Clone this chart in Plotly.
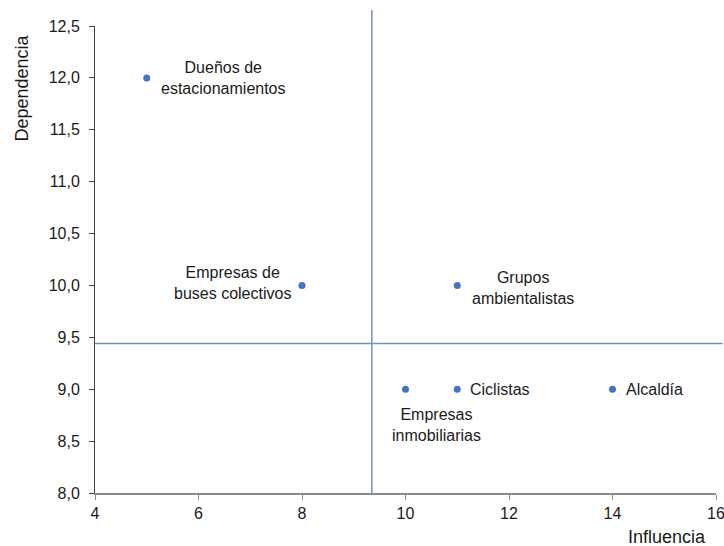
import plotly.graph_objects as go

# ---- data ----
actors = ["Dueños de<br>estacionamientos", "Empresas de<br>buses colectivos",
          "Grupos<br>ambientalistas", "Empresas<br>inmobiliarias",
          "Ciclistas", "Alcaldía"]
influencia = [5, 8, 11, 10, 11, 14]
dependencia = [12.0, 10.0, 10.0, 9.0, 9.0, 9.0]
influence_cut = 9.35
dependence_cut = 9.44
x_ticks = [4, 6, 8, 10, 12, 14, 16]
y_ticks = [8.0, 8.5, 9.0, 9.5, 10.0, 10.5, 11.0, 11.5, 12.0, 12.5]

# ---- label placement (style) ----
label_style = {
    "Dueños de<br>estacionamientos": dict(xanchor="left", xshift=12, yshift=0),
    "Empresas de<br>buses colectivos": dict(xanchor="right", xshift=-9, yshift=2),
    "Grupos<br>ambientalistas": dict(xanchor="left", xshift=13, yshift=-3),
    "Empresas<br>inmobiliarias": dict(xanchor="center", xshift=31, yshift=-36),
    "Ciclistas": dict(xanchor="left", xshift=11, yshift=0),
    "Alcaldía": dict(xanchor="left", xshift=11, yshift=0),
}

FONT = "Liberation Sans, Arial, sans-serif"
TXT = "#1a1a1a"

fig = go.Figure()
fig.add_trace(go.Scatter(
    x=influencia, y=dependencia, mode="markers",
    marker=dict(color="#4472C4", size=7),
    hoverinfo="text", text=actors, showlegend=False,
))

annotations = []
for name, xv, yv in zip(actors, influencia, dependencia):
    s = label_style[name]
    annotations.append(dict(
        x=xv, y=yv, xref="x", yref="y", text=name, showarrow=False,
        xanchor=s["xanchor"], yanchor="middle", align="center",
        xshift=s["xshift"], yshift=s["yshift"],
        font=dict(family=FONT, size=16, color=TXT),
    ))

annotations.append(dict(
    text="Dependencia", xref="paper", yref="paper", x=0, y=1,
    xanchor="center", yanchor="top", xshift=-74, yshift=-7, textangle=-90,
    showarrow=False, font=dict(family=FONT, size=18, color=TXT),
))
annotations.append(dict(
    text="Influencia", xref="paper", yref="paper", x=1, y=0,
    xanchor="right", yanchor="middle", xshift=-8, yshift=-44,
    showarrow=False, font=dict(family=FONT, size=18, color=TXT),
))

shapes = [
    dict(type="line", xref="x", yref="paper", x0=influence_cut, x1=influence_cut,
         y0=0, y1=1.034, line=dict(color="#6f93c2", width=1.5), layer="above"),
    dict(type="line", xref="paper", yref="y", x0=0, x1=1.011,
         y0=dependence_cut, y1=dependence_cut,
         line=dict(color="#6f93c2", width=1.5), layer="above"),
]

fig.update_layout(
    width=724, height=546,
    margin=dict(l=95, r=8, t=26, b=53, autoexpand=False),
    paper_bgcolor="white", plot_bgcolor="white",
    separators=",.",
    font=dict(family=FONT, size=16, color=TXT),
    annotations=annotations, shapes=shapes,
    xaxis=dict(range=[4, 16], tickvals=x_ticks, tickformat="d",
               showgrid=False, zeroline=False, showline=True,
               linecolor="#8c8c8c", linewidth=2, ticks="outside",
               ticklen=5, tickcolor="#8c8c8c", tickwidth=1,
               ticklabeloverflow="allow", automargin=False,
               tickfont=dict(family=FONT, size=16, color=TXT)),
    yaxis=dict(range=[8, 12.5], tickvals=y_ticks, tickformat=".1f",
               showgrid=False, zeroline=False, showline=True,
               linecolor="#404040", linewidth=1, ticks="outside",
               ticklen=5, tickcolor="#404040", tickwidth=1,
               ticklabelstandoff=6, automargin=False,
               tickfont=dict(family=FONT, size=16, color=TXT)),
)

fig.write_html(
    "out.html",
    config={"displayModeBar": False},
    post_script="document.body.style.margin='0';document.body.style.overflow='hidden';",
)
